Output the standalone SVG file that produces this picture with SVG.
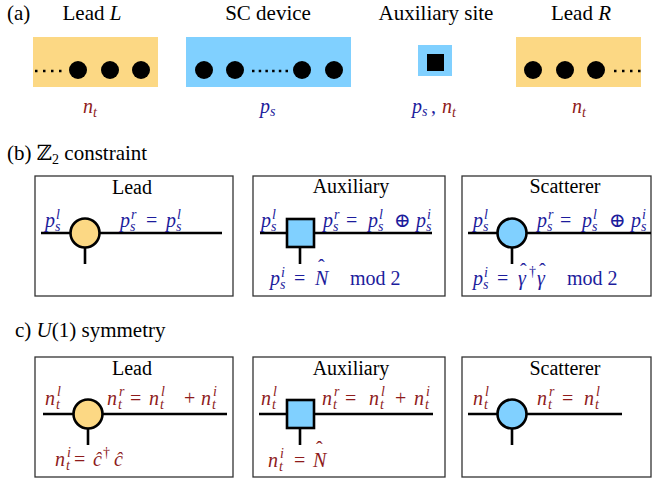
<svg xmlns="http://www.w3.org/2000/svg" width="652" height="481" viewBox="0 0 652 481">
<style>
.t{font-family:"Liberation Serif","DejaVu Serif",serif;font-size:20px;fill:#000}
.h{font-size:21px}
.m{font-family:"Liberation Serif","DejaVu Serif",serif;font-size:20px;font-style:italic}
.u{font-style:normal}
.s{font-size:14px}
.b{fill:#1c1c9c}
.r{fill:#8e1b1b}
.box{fill:#fff;stroke:#333;stroke-width:1.3}
.leg{stroke:#000;stroke-width:2.6;fill:none}
.dot{fill:#000}
.dots{stroke:#000;stroke-width:2.5;stroke-dasharray:2.5 5.5;fill:none}
.or{fill:#fcd884}
.bl{fill:#80d0ff}
.nd{stroke:#000;stroke-width:2.6}
</style>

<!-- panel (a) -->
<text class="t h" x="7" y="20">(a)</text>
<g id="leadL">
<text class="t h" x="92" y="20" text-anchor="middle">Lead <tspan font-style="italic">L</tspan></text>
<rect class="or" x="33" y="37" width="125" height="50"/>
<line class="dots" x1="35" y1="71" x2="62" y2="71"/>
<circle class="dot" cx="78" cy="70" r="9"/>
<circle class="dot" cx="110" cy="70" r="9"/>
<circle class="dot" cx="141" cy="70" r="9"/>
<text class="m r"><tspan x="83" y="113">n</tspan><tspan class="s" x="93" y="117">t</tspan></text>
</g>
<g id="scdevice">
<text class="t h" x="268" y="20" text-anchor="middle">SC device</text>
<rect class="bl" x="186" y="37" width="165" height="50"/>
<circle class="dot" cx="204" cy="70" r="9"/>
<circle class="dot" cx="235" cy="70" r="9"/>
<line class="dots" x1="252" y1="71" x2="288" y2="71" style="stroke-dasharray:2.5 4.2"/>
<circle class="dot" cx="302" cy="70" r="9"/>
<circle class="dot" cx="334" cy="70" r="9"/>
<text class="m b"><tspan x="260" y="113">p</tspan><tspan class="s" x="270" y="116">s</tspan></text>
</g>
<g id="auxsite">
<text class="t h" x="436" y="20" text-anchor="middle">Auxiliary site</text>
<rect class="bl" x="418" y="45" width="34" height="31"/>
<rect fill="#000" x="427" y="54" width="17" height="17"/>
<text class="m"><tspan class="b" x="412" y="113">p</tspan><tspan class="s b" x="422" y="116">s</tspan><tspan class="b u" x="431" y="113">,</tspan><tspan class="r" x="442" y="113">n</tspan><tspan class="s r" x="452" y="117">t</tspan></text>
</g>
<g id="leadR">
<text class="t h" x="581" y="20" text-anchor="middle">Lead <tspan font-style="italic">R</tspan></text>
<rect class="or" x="516" y="37" width="125" height="50"/>
<circle class="dot" cx="533" cy="70" r="9"/>
<circle class="dot" cx="565" cy="70" r="9"/>
<circle class="dot" cx="596" cy="70" r="9"/>
<line class="dots" x1="614" y1="71" x2="641" y2="71"/>
<text class="m r"><tspan x="572" y="113">n</tspan><tspan class="s" x="582" y="117">t</tspan></text>
</g>

<!-- panel (b) -->
<text class="t h" x="7" y="160">(b) ℤ<tspan class="s" dy="4">2</tspan><tspan dy="-4"> constraint</tspan></text>

<g id="b-lead">
<rect class="box" x="35" y="176" width="198" height="120"/>
<text class="t" x="132" y="194" text-anchor="middle">Lead</text>
</g>
<g id="b-aux">
<rect class="box" x="253" y="176" width="192" height="120"/>
<text class="t" x="351" y="193" text-anchor="middle">Auxiliary</text>
</g>
<g id="b-scat">
<rect class="box" x="462" y="176" width="189" height="120"/>
<text class="t" x="565" y="193" text-anchor="middle">Scatterer</text>
</g>

<!-- panel (c) -->
<text class="t h" x="15" y="337">c) <tspan font-style="italic">U</tspan>(1) symmetry</text>

<g id="c-lead">
<rect class="box" x="35" y="357" width="198" height="120"/>
<text class="t" x="132" y="375" text-anchor="middle">Lead</text>
</g>
<g id="c-aux">
<rect class="box" x="253" y="357" width="192" height="120"/>
<text class="t" x="351" y="375" text-anchor="middle">Auxiliary</text>
</g>
<g id="c-scat">
<rect class="box" x="462" y="357" width="189" height="120"/>
<text class="t" x="565" y="375" text-anchor="middle">Scatterer</text>
</g>

<!-- connectors (tensor legs) -->
<g id="connectors">
<line class="leg" x1="41" y1="233" x2="222" y2="233"/>
<line class="leg" x1="85" y1="247" x2="85" y2="264" stroke-width="3"/>
<line class="leg" x1="260" y1="233" x2="432" y2="233"/>
<line class="leg" x1="300" y1="247" x2="300" y2="264" stroke-width="3"/>
<line class="leg" x1="468" y1="233" x2="651" y2="233"/>
<line class="leg" x1="512" y1="247" x2="512" y2="264" stroke-width="3"/>
<line class="leg" x1="43" y1="414" x2="227" y2="414"/>
<line class="leg" x1="88" y1="428" x2="88" y2="445" stroke-width="3"/>
<line class="leg" x1="259" y1="414" x2="433" y2="414"/>
<line class="leg" x1="300" y1="428" x2="300" y2="445" stroke-width="3"/>
<line class="leg" x1="468" y1="414" x2="622" y2="414"/>
<line class="leg" x1="512" y1="428" x2="512" y2="445" stroke-width="3"/>
</g>

<!-- tensor nodes -->
<g id="b-lead-node"><circle class="or nd" cx="85" cy="233" r="14.5"/></g>
<g id="b-aux-node"><rect class="bl nd" x="287" y="219" width="27" height="28" stroke-width="2.2"/></g>
<g id="b-scat-node"><circle class="bl nd" cx="512" cy="233" r="14.5"/></g>
<g id="c-lead-node"><circle class="or nd" cx="88" cy="414" r="14.5"/></g>
<g id="c-aux-node"><rect class="bl nd" x="287" y="400" width="27" height="28" stroke-width="2.2"/></g>
<g id="c-scat-node"><circle class="bl nd" cx="512" cy="414" r="14.5"/></g>

<!-- labels (b) -->
<g class="m b">
<text><tspan x="45" y="227">p</tspan><tspan class="s" x="55" y="231">s</tspan><tspan class="s" x="56" y="219">l</tspan></text>
<text><tspan x="120" y="227">p</tspan><tspan class="s" x="130" y="231">s</tspan><tspan class="s" x="131" y="219">r</tspan><tspan class="u" x="146" y="227">=</tspan><tspan x="166" y="227">p</tspan><tspan class="s" x="176" y="231">s</tspan><tspan class="s" x="177" y="219">l</tspan></text>

<text><tspan x="261" y="227">p</tspan><tspan class="s" x="271" y="231">s</tspan><tspan class="s" x="272" y="219">l</tspan></text>
<text><tspan x="323" y="227">p</tspan><tspan class="s" x="333" y="231">s</tspan><tspan class="s" x="334" y="219">r</tspan><tspan class="u" x="346" y="227">=</tspan><tspan x="368" y="227">p</tspan><tspan class="s" x="378" y="231">s</tspan><tspan class="s" x="379" y="219">l</tspan><tspan class="u" x="394" y="227">⊕</tspan><tspan x="416" y="227">p</tspan><tspan class="s" x="426" y="231">s</tspan><tspan class="s" x="427" y="219">i</tspan></text>
<text><tspan x="270" y="285">p</tspan><tspan class="s" x="280" y="289">s</tspan><tspan class="s" x="281" y="277">i</tspan><tspan class="u" x="294" y="285">=</tspan><tspan x="315" y="285">N</tspan><tspan class="u" x="318" y="274">ˆ</tspan><tspan class="u" x="350" y="285">mod 2</tspan></text>

<text><tspan x="473" y="227">p</tspan><tspan class="s" x="483" y="231">s</tspan><tspan class="s" x="484" y="219">l</tspan></text>
<text><tspan x="537" y="227">p</tspan><tspan class="s" x="547" y="231">s</tspan><tspan class="s" x="548" y="219">r</tspan><tspan class="u" x="560" y="227">=</tspan><tspan x="582" y="227">p</tspan><tspan class="s" x="592" y="231">s</tspan><tspan class="s" x="593" y="219">l</tspan><tspan class="u" x="609" y="227">⊕</tspan><tspan x="631" y="227">p</tspan><tspan class="s" x="641" y="231">s</tspan><tspan class="s" x="642" y="219">i</tspan></text>
<text><tspan x="473" y="285">p</tspan><tspan class="s" x="483" y="289">s</tspan><tspan class="s" x="484" y="277">i</tspan><tspan class="u" x="497" y="285">=</tspan><tspan x="518" y="285">γ</tspan><tspan class="u" x="520" y="278">ˆ</tspan><tspan class="s u" x="529" y="276">†</tspan><tspan x="537" y="285">γ</tspan><tspan class="u" x="539" y="278">ˆ</tspan><tspan class="u" x="567" y="285">mod 2</tspan></text>
</g>

<!-- labels (c) -->
<g class="m r">
<text><tspan x="45" y="405">n</tspan><tspan class="s" x="56" y="409">t</tspan><tspan class="s" x="57" y="396">l</tspan></text>
<text><tspan x="107" y="405">n</tspan><tspan class="s" x="118" y="409">t</tspan><tspan class="s" x="119" y="396">r</tspan><tspan class="u" x="130" y="405">=</tspan><tspan x="149" y="405">n</tspan><tspan class="s" x="160" y="409">t</tspan><tspan class="s" x="161" y="396">l</tspan><tspan class="u" x="184" y="405">+</tspan><tspan x="201" y="405">n</tspan><tspan class="s" x="212" y="409">t</tspan><tspan class="s" x="213" y="396">i</tspan></text>
<text><tspan x="55" y="466">n</tspan><tspan class="s" x="66" y="470">t</tspan><tspan class="s" x="67" y="457">i</tspan><tspan class="u" x="74" y="466">=</tspan><tspan x="93" y="466">ĉ</tspan><tspan class="s u" x="103" y="457">†</tspan><tspan x="114" y="466">ĉ</tspan></text>

<text><tspan x="261" y="405">n</tspan><tspan class="s" x="272" y="409">t</tspan><tspan class="s" x="273" y="396">l</tspan></text>
<text><tspan x="322" y="405">n</tspan><tspan class="s" x="333" y="409">t</tspan><tspan class="s" x="334" y="396">r</tspan><tspan class="u" x="345" y="405">=</tspan><tspan x="369" y="405">n</tspan><tspan class="s" x="380" y="409">t</tspan><tspan class="s" x="381" y="396">l</tspan><tspan class="u" x="395" y="405">+</tspan><tspan x="414" y="405">n</tspan><tspan class="s" x="425" y="409">t</tspan><tspan class="s" x="426" y="396">i</tspan></text>
<text><tspan x="268" y="467">n</tspan><tspan class="s" x="279" y="471">t</tspan><tspan class="s" x="280" y="458">i</tspan><tspan class="u" x="294" y="467">=</tspan><tspan x="313" y="467">N</tspan><tspan class="u" x="316" y="456">ˆ</tspan></text>

<text><tspan x="473" y="405">n</tspan><tspan class="s" x="484" y="409">t</tspan><tspan class="s" x="485" y="396">l</tspan></text>
<text><tspan x="537" y="405">n</tspan><tspan class="s" x="548" y="409">t</tspan><tspan class="s" x="549" y="396">r</tspan><tspan class="u" x="562" y="405">=</tspan><tspan x="584" y="405">n</tspan><tspan class="s" x="595" y="409">t</tspan><tspan class="s" x="596" y="396">l</tspan></text>
</g>
</svg>
